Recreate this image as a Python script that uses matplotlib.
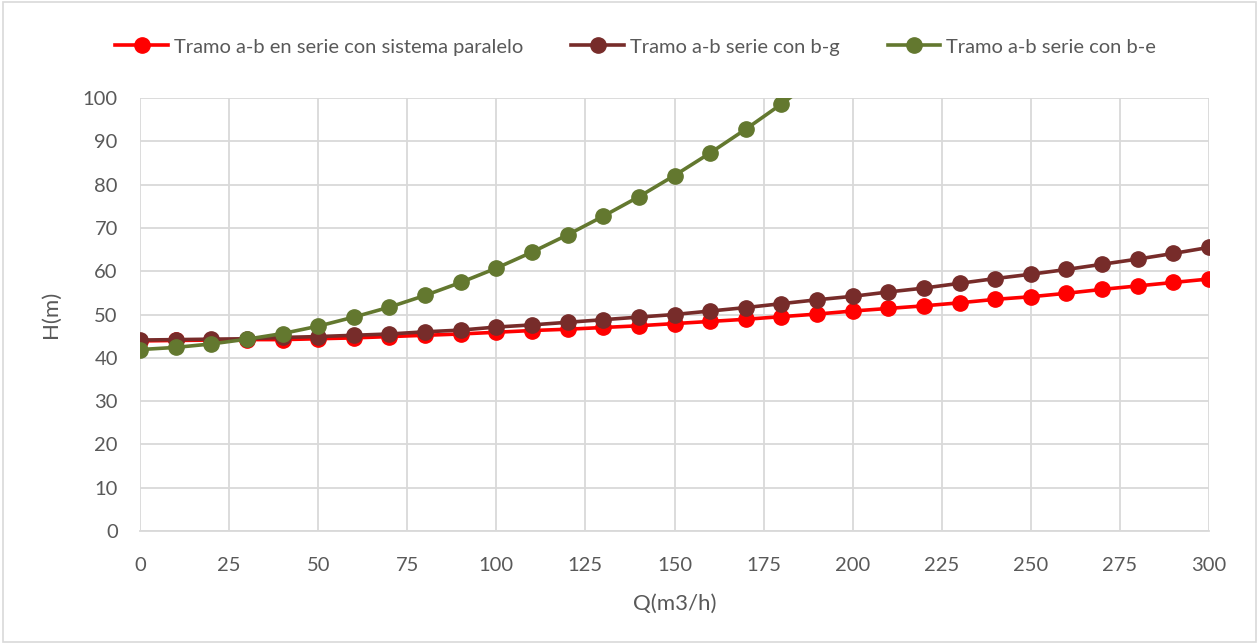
import matplotlib.pyplot as plt
from matplotlib.patches import Rectangle

q = [0, 10, 20, 30, 40, 50, 60, 70, 80, 90, 100, 110, 120, 130, 140, 150,
     160, 170, 180, 190, 200, 210, 220, 230, 240, 250, 260, 270, 280, 290, 300]

h_paralelo = [43.9, 44.0, 44.1, 44.2, 44.2, 44.4, 44.6, 44.9, 45.2, 45.5, 45.9,
              46.3, 46.6, 47.0, 47.4, 47.9, 48.4, 48.9, 49.5, 50.1, 50.8,
              51.4, 52.0, 52.7, 53.5, 54.1, 54.9, 55.8, 56.6, 57.4, 58.2]
h_bg = [44.1, 44.2, 44.3, 44.4, 44.7, 44.9, 45.2, 45.5, 46.0, 46.4, 47.1,
        47.6, 48.2, 48.8, 49.4, 50.0, 50.8, 51.6, 52.5, 53.4, 54.2,
        55.2, 56.1, 57.2, 58.3, 59.3, 60.4, 61.6, 62.8, 64.1, 65.5]
q_be = [0, 10, 20, 30, 40, 50, 60, 70, 80, 90, 100, 110, 120, 130, 140, 150,
        160, 170, 180, 190]
h_be = [41.9, 42.4, 43.2, 44.3, 45.6, 47.3, 49.4, 51.7, 54.4, 57.4, 60.7,
        64.4, 68.4, 72.7, 77.2, 82.1, 87.3, 92.8, 98.6, 104.7]

series = [
    ("Tramo a-b en serie con sistema paralelo", q, h_paralelo, "#FF0000"),
    ("Tramo a-b serie con b-g", q, h_bg, "#772C2A"),
    ("Tramo a-b serie con b-e", q_be, h_be, "#63782F"),
]

plt.rcParams['font.family'] = ['Lato', 'DejaVu Sans']

fig = plt.figure(figsize=(12.59, 6.44), dpi=100)
ax = fig.add_axes([140 / 1259, 1 - 531 / 644, (1209 - 140) / 1259, (531 - 98) / 644])

for label, xs, ys, color in series:
    ax.plot(xs, ys, color=color, lw=2.6, marker="o", ms=11, label=label)

ax.set_xlim(0, 300)
ax.set_ylim(0, 100)
ax.set_xticks(range(0, 301, 25))
ax.set_yticks(range(0, 101, 10))
ax.grid(True, color="#D9D9D9", lw=1.3)
ax.set_axisbelow(True)
for s in ["top", "right", "left"]:
    ax.spines[s].set_visible(False)
ax.spines["bottom"].set_color("#D9D9D9")
ax.spines["bottom"].set_linewidth(1.3)
ax.tick_params(axis="x", length=0, labelsize=14.5, colors="#595959", pad=19)
ax.tick_params(axis="y", length=0, labelsize=14.5, colors="#595959", pad=16)

ax.set_xlabel("Q(m3/h)", fontsize=16, color="#595959", labelpad=14)
ax.set_ylabel("H(m)", fontsize=16, color="#595959", labelpad=16)

fig.legend(loc="center", bbox_to_anchor=(0.505, 1 - 47 / 644), ncol=3,
           frameon=False, fontsize=14.5, labelcolor="#595959",
           handlelength=2.6, columnspacing=2.4, handletextpad=0.3)

fig.patches.append(Rectangle((0.002, 0.003), 0.996, 0.994, transform=fig.transFigure,
                             fill=False, edgecolor="#D9D9D9", lw=1.2))

fig.savefig("out.png", dpi=100)
